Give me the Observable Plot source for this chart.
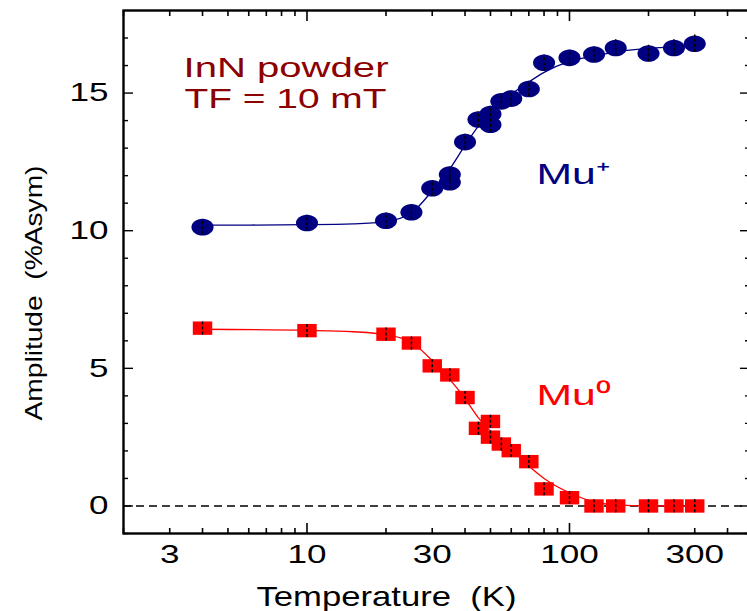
<!DOCTYPE html>
<html>
<head>
<meta charset="utf-8">
<script src="https://cdn.jsdelivr.net/npm/d3@7"></script>
<script src="https://cdn.jsdelivr.net/npm/@observablehq/plot@0.6"></script>
<style>
  html, body { margin: 0; padding: 0; background: #fff; overflow: hidden; }
  #chart { width: 747px; height: 611px; }
</style>
</head>
<body>
<div id="chart"></div>
<script>
// ---- Data ----
// Mu+ (blue circles)
const muPlusT   = [4, 10, 20, 25, 30, 35, 35, 40, 45, 50, 50, 55, 60, 70, 80, 100, 124, 150, 200, 250, 300];
const muPlusA   = [10.13, 10.28, 10.36, 10.67, 11.54, 12.04, 11.76, 13.22, 14.04, 14.24, 13.85, 14.70, 14.80, 15.15, 16.10, 16.28, 16.40, 16.64, 16.44, 16.64, 16.79];
const muPlusErr = [0.28, 0.28, 0.28, 0.28, 0.28, 0.28, 0.28, 0.28, 0.28, 0.28, 0.28, 0.28, 0.28, 0.28, 0.28, 0.28, 0.28, 0.30, 0.30, 0.30, 0.32];
// Mu0 (red squares)
const muZeroT   = [4, 10, 20, 25, 30, 35, 40, 45, 50, 50, 55, 60, 70, 80, 100, 124, 150, 200, 250, 300];
const muZeroA   = [6.46, 6.37, 6.24, 5.92, 5.09, 4.76, 3.94, 2.82, 3.07, 2.50, 2.25, 2.01, 1.61, 0.62, 0.30, 0.00, 0.00, 0.00, 0.00, 0.00];
const muZeroErr = [0.25, 0.25, 0.25, 0.25, 0.25, 0.25, 0.25, 0.25, 0.25, 0.25, 0.25, 0.25, 0.25, 0.25, 0.25, 0.25, 0.25, 0.25, 0.25, 0.25];
// Fit curves
const fitPlusT  = [4, 10, 15, 20, 25, 30, 35, 40, 45, 50, 60, 70, 80, 100, 125, 150, 200, 250, 300];
const fitPlusA  = [10.20, 10.22, 10.25, 10.33, 10.65, 11.45, 12.25, 13.10, 13.80, 14.25, 14.95, 15.40, 15.75, 16.15, 16.35, 16.50, 16.62, 16.68, 16.73];
const fitZeroT  = [4, 10, 15, 20, 25, 30, 35, 40, 45, 50, 60, 70, 80, 100, 125, 150, 200, 300];
const fitZeroA  = [6.42, 6.38, 6.33, 6.22, 5.95, 5.28, 4.60, 3.90, 3.20, 2.72, 2.05, 1.45, 1.00, 0.48, 0.14, 0.04, 0.00, 0.00];
// Axes
const xDomain = [2, 485];
const yDomain = [-1, 18];
const xMinorTicks = [2, 3, 4, 5, 6, 7, 8, 9, 20, 30, 40, 50, 60, 70, 80, 90, 200, 300, 400];
const xMajorTicks = [10, 100];
const xTickLabels = [3, 10, 30, 100, 300];
const yMinorTicks = [-1, 1, 2, 3, 4, 6, 7, 8, 9, 11, 12, 13, 14, 16, 17];
const yMajorTicks = [0, 5, 10, 15];
const yTickLabels = [0, 5, 10, 15];
const zeroLine = [0];
const xLabel = ["Temperature  (K)"];
const yLabel = ["Amplitude  (%Asym)"];
const annotLine1 = ["InN powder"];
const annotLine2 = ["TF = 10 mT"];
const muPlusLabel = ["Mu\u207A"];
const muZeroLabel = ["Mu\u2070"];

const navy = "#000080";
const red = "#ff0000";
const maroon = "#8b0000";

const plusData = muPlusT.map((T, i) => ({T, A: muPlusA[i], e: muPlusErr[i]}));
const zeroData = muZeroT.map((T, i) => ({T, A: muZeroA[i], e: muZeroErr[i]}));
const plusFit = fitPlusT.map((T, i) => ({T, A: fitPlusA[i]}));
const zeroFit = fitZeroT.map((T, i) => ({T, A: fitZeroA[i]}));

// custom marker shapes (the reference's markers are wide ellipses / wide rectangles)
const ellipseSym = {
  draw(ctx, size) {
    const r = Math.sqrt(size / Math.PI), rx = r * 1.33, ry = r, k = 0.5523;
    ctx.moveTo(rx, 0);
    ctx.bezierCurveTo(rx, ry * k, rx * k, ry, 0, ry);
    ctx.bezierCurveTo(-rx * k, ry, -rx, ry * k, -rx, 0);
    ctx.bezierCurveTo(-rx, -ry * k, -rx * k, -ry, 0, -ry);
    ctx.bezierCurveTo(rx * k, -ry, rx, -ry * k, rx, 0);
    ctx.closePath();
  }
};
const rectSym = {
  draw(ctx, size) {
    const r = Math.sqrt(size / Math.PI);
    ctx.rect(-r * 1.45, -r, r * 2.9, r * 2);
  }
};

const tickFont = 26;

const chart = Plot.plot({
  width: 747,
  height: 611,
  marginLeft: 123,
  marginRight: -2,
  marginTop: 10,
  marginBottom: 78,
  style: {fontFamily: "'Liberation Sans', Arial, Helvetica, sans-serif", background: "white", color: "black"},
  x: {type: "log", domain: xDomain},
  y: {domain: yDomain},
  marks: [
    Plot.ruleY(zeroLine, {stroke: "black", strokeWidth: 1.4, strokeDasharray: "8,5"}),
    // ticks (inward, all four sides)
    Plot.axisX(xMinorTicks, {anchor: "bottom", tickSize: -5, fill: "none", strokeWidth: 1.6, label: null}),
    Plot.axisX(xMajorTicks, {anchor: "bottom", tickSize: -10, fill: "none", strokeWidth: 1.6, label: null}),
    Plot.axisX(xMinorTicks, {anchor: "top", tickSize: -5, fill: "none", strokeWidth: 1.6, label: null}),
    Plot.axisX(xMajorTicks, {anchor: "top", tickSize: -10, fill: "none", strokeWidth: 1.6, label: null}),
    Plot.axisY(yMinorTicks, {anchor: "left", tickSize: -5, fill: "none", strokeWidth: 1.4, label: null}),
    Plot.axisY(yMajorTicks, {anchor: "left", tickSize: -10, fill: "none", strokeWidth: 1.4, label: null}),
    Plot.axisY(yMinorTicks, {anchor: "right", tickSize: -5, fill: "none", strokeWidth: 1.4, label: null}),
    Plot.axisY(yMajorTicks, {anchor: "right", tickSize: -10, fill: "none", strokeWidth: 1.4, label: null}),
    // tick labels
    Plot.axisX(xTickLabels, {anchor: "bottom", tickSize: 0, tickPadding: 11, fontSize: tickFont, label: null, tickFormat: d => String(d)}),
    Plot.axisY(yTickLabels, {anchor: "left", tickSize: 0, tickPadding: 15, fontSize: tickFont, label: null, tickFormat: d => String(d)}),
    Plot.frame({stroke: "black", strokeWidth: 2.4}),
    // fits
    Plot.line(plusFit, {x: "T", y: "A", stroke: navy, strokeWidth: 1.3, curve: "monotone-x"}),
    Plot.line(zeroFit, {x: "T", y: "A", stroke: red, strokeWidth: 1.3, curve: "monotone-x"}),
    // markers
    Plot.dot(plusData, {x: "T", y: "A", r: 8.3, symbol: ellipseSym, fill: navy}),
    Plot.dot(zeroData, {x: "T", y: "A", r: 6.7, symbol: rectSym, fill: red}),
    // error bars
    Plot.ruleX(plusData, {x: "T", y1: d => d.A - d.e, y2: d => d.A + d.e, stroke: "black", strokeWidth: 1.5, strokeDasharray: "3,2"}),
    Plot.ruleX(zeroData, {x: "T", y1: d => d.A - d.e, y2: d => d.A + d.e, stroke: "black", strokeWidth: 1.5, strokeDasharray: "3,2"}),
    // texts
    Plot.text(xLabel, {text: d => d, frameAnchor: "bottom", lineAnchor: "middle", dx: -50, dy: 64, fontSize: 28, textAnchor: "middle", fill: "black"}),
    Plot.text(yLabel, {text: d => d, frameAnchor: "left", lineAnchor: "middle", rotate: -90, dx: -89, dy: 21, fontSize: 24, textAnchor: "middle", fill: "black"}),
    Plot.text(annotLine1, {text: d => d, frameAnchor: "top-left", lineAnchor: "middle", dx: 60, dy: 58, fontSize: 27, textAnchor: "start", fill: maroon}),
    Plot.text(annotLine2, {text: d => d, frameAnchor: "top-left", lineAnchor: "middle", dx: 61, dy: 89, fontSize: 27, textAnchor: "start", fill: maroon}),
    Plot.text(muPlusLabel, {text: d => d, frameAnchor: "top-left", lineAnchor: "middle", dx: 413, dy: 164, fontSize: 29, textAnchor: "start", fill: navy}),
    Plot.text(muZeroLabel, {text: d => d, frameAnchor: "top-left", lineAnchor: "middle", dx: 413, dy: 385, fontSize: 29, textAnchor: "start", fill: red})
  ]
});

document.getElementById("chart").appendChild(chart);

// The reference's lettering is horizontally stretched; widen glyphs with textLength.
const targetWidths = {
  "Temperature  (K)": 260,
  "Amplitude  (%Asym)": 255,
  "InN powder": 205,
  "TF = 10 mT": 202,
  "Mu\u207A": 74,
  "Mu\u2070": 74
};
d3.select(chart).selectAll("text").each(function() {
  const t = this.textContent;
  if (!t) return;
  const L = this.getComputedTextLength();
  const w = targetWidths[t] !== undefined ? targetWidths[t] : L * 1.35;
  this.setAttribute("textLength", w.toFixed(1));
  this.setAttribute("lengthAdjust", "spacingAndGlyphs");
});
</script>
</body>
</html>
